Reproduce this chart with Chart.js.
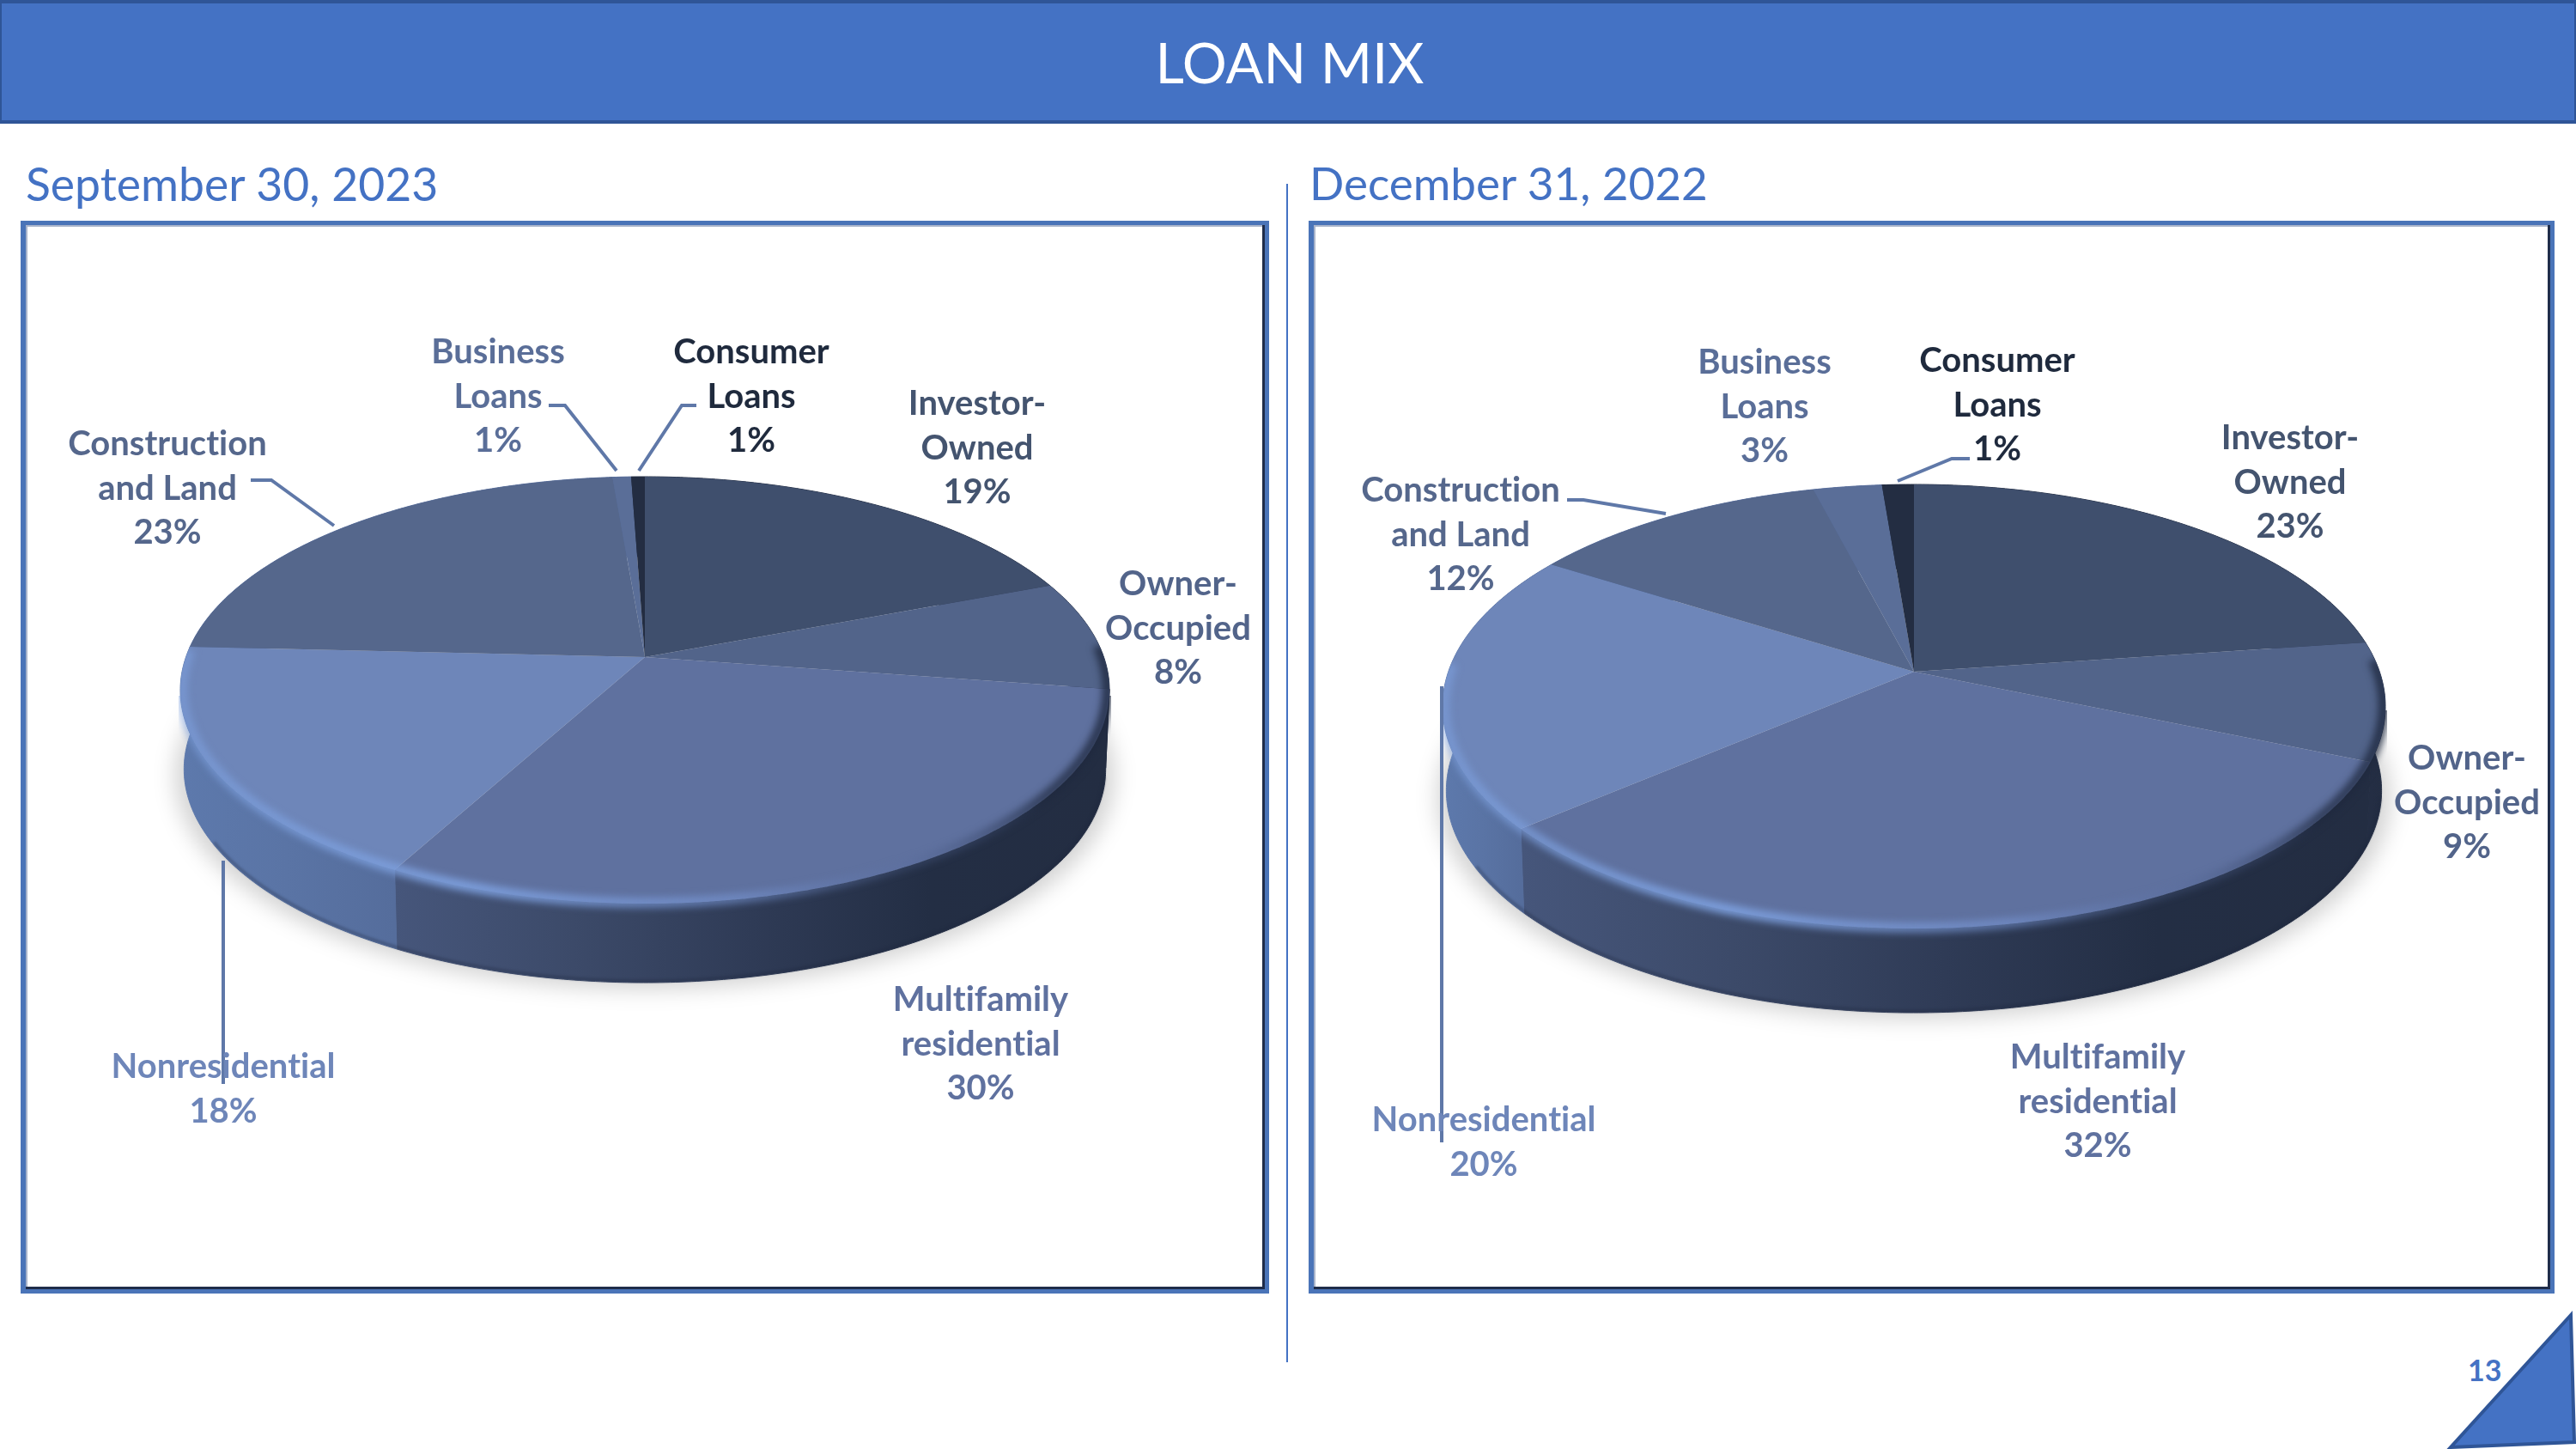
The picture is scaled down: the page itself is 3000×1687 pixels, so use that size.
<!DOCTYPE html>
<html><head><meta charset="utf-8">
<script src="https://cdn.jsdelivr.net/npm/chart.js@4"></script>
<style>
html,body{margin:0;padding:0;background:#fff;width:3000px;height:1687px;overflow:hidden;font-family:Lato,sans-serif;font-variant-ligatures:none}
#header{position:absolute;left:0;top:0;width:3000px;height:144px;box-sizing:border-box;background:#4472c4;border:solid #2f5597;border-width:4px 2px;color:#fff;font-size:65px;line-height:136px;text-align:center;padding-left:4px}
.sub{position:absolute;top:180px;font-size:53.5px;line-height:66px;color:#4472c4;white-space:nowrap}
.box{position:absolute;top:257px;height:1249px;box-sizing:border-box;border:solid #4a74b8;border-width:5px 5px 5px 6px;box-shadow:inset -3px -3px 0 #1f2d4a,inset 2px 2px 0 #a9b4cb}
canvas{position:absolute}
#divider{position:absolute;left:1498px;top:214px;width:2px;height:1372px;background:#4472c4}
#pageno{position:absolute;left:2874px;top:1572px;font-size:34px;font-weight:700;color:#4472c4;line-height:46px}
#tri{position:absolute;left:0;top:0}
</style></head><body>
<div id="header">LOAN MIX</div>
<div class="sub" style="left:30px">September 30, 2023</div>
<div class="sub" style="left:1525px;font-size:53px">December 31, 2022</div>
<div class="box" style="left:24px;width:1454px"></div>
<div class="box" style="left:1524px;width:1451px"></div>
<div id="divider"></div>
<svg id="tri" width="3000" height="1687"><polygon points="2994,1531 2854,1685 2998,1679" fill="#4472c4" stroke="#2f5597" stroke-width="4"/></svg>
<div id="pageno">13</div>
<canvas id="c1" width="1454" height="1249" style="left:24px;top:257px"></canvas>
<canvas id="c2" width="1451" height="1249" style="left:1524px;top:257px"></canvas>
<script>
const categories=['Investor-Owned','Owner-Occupied','Multifamily residential','Nonresidential','Construction and Land','Business Loans','Consumer Loans'];
const labelLines=[['Investor-','Owned'],['Owner-','Occupied'],['Multifamily','residential'],['Nonresidential'],['Construction','and Land'],['Business','Loans'],['Consumer','Loans']];
// Slice sizes; the printed labels are these rounded to whole percent
const sep2023=[19.1,8.3,30.4,18.0,22.9,0.75,0.55];
const dec2022=[22.8,8.6,32.3,20.3,12.0,2.73,1.27];
const faceColors=['#3f4f6d','#52648a','#5f719f','#6e86b9','#55678c','#5a6e98','#232d42'];
const labelColors=['#44546f','#52648a','#5f719f','#6e86b9','#55678c','#5a6e98','#1f2a3d'];
const leaderColor='#5f78a8';
const wallStops=[
 ['#2c3850','#232d42'],['#242e44','#232d42'],
 ['#46567b','#3c4a69','#2f3b56','#232e44','#232d42'],
 ['#5d79ac','#5a74a5','#556d9c'],['#556c9c','#556c9c'],['#556c9c','#556c9c'],['#232d42','#232d42']];
// Panel geometry: page coordinates of the projected disc, labels and leader lines
const layouts=[
 {ox:24,oy:257,cx:751,ay:765,ry0:210,ry1:287,rx:541,h:92,
  labels:[[1138,470],[1372,680],[1142,1164],[260,1242],[195,517],[580,410],[875,410]],
  leaders:[[[260,1002],[260,1262]],[[292,559],[316,559],[389,612]],[[639,472],[658,472],[718,548]],[[811,472],[794,472],[744,548]]]},
 {ox:1524,oy:257,cx:2229,ay:782,ry0:218,ry1:299,rx:549,h:98,
  labels:[[2667,510],[2873,883],[2443,1231],[1728,1304],[1701,571],[2055,422],[2326,420]],
  leaders:[[[1679,799],[1679,1330]],[[1825,582],[1844,582],[1940,598]],[[2294,534],[2273,534],[2210,560]]]}
];
function makePlugin(L){
 const c=(L.ry0-L.ry1)/(L.ry0+L.ry1), A=L.ry1*(1+c), R=L.rx*Math.sqrt(1-c*c);
 const P=(a,dy=0,k=1)=>{const u=Math.cos(a),v=Math.sin(a),w=1+c*v;return [L.cx+k*R*u/w,L.ay+A*v/w+dy];};
 const trace=(ctx,a0,a1,dy,k,first)=>{const n=Math.max(2,Math.ceil(Math.abs(a1-a0)/0.01));
  for(let i=0;i<=n;i++){const p=P(a0+(a1-a0)*i/n,dy,k);(i==0&&first)?ctx.moveTo(p[0],p[1]):ctx.lineTo(p[0],p[1]);}};
 return {id:'pie3d',beforeDatasetsDraw(chart){
  const ctx=chart.ctx, meta=chart.getDatasetMeta(0), vals=chart.data.datasets[0].data;
  ctx.save();ctx.translate(-L.ox,-L.oy);
  // soft ground shadow
  ctx.save();ctx.filter='blur(12px)';ctx.fillStyle='rgba(0,0,0,0.17)';ctx.beginPath();
  trace(ctx,0,Math.PI*2,L.h+8,1.012,true);ctx.closePath();ctx.fill();ctx.restore();
  // side walls
  meta.data.forEach((arc,i)=>{
   let xs=[];const n=40;for(let j=0;j<=n;j++){const a=arc.startAngle+(arc.endAngle-arc.startAngle)*j/n;if(Math.sin(a)>-0.1)xs.push(P(a)[0]);}
   const x0=xs.length?Math.min(...xs):0,x1=xs.length?Math.max(...xs):1;
   const g=ctx.createLinearGradient(x0,0,Math.max(x1,x0+1),0),st=wallStops[i];
   st.forEach((col,k)=>g.addColorStop(k/(st.length-1),col));
   ctx.fillStyle=g;ctx.strokeStyle=g;ctx.lineWidth=1;ctx.beginPath();
   trace(ctx,arc.startAngle,arc.endAngle,0,1,true);
   trace(ctx,arc.endAngle,arc.startAngle,L.h,0.992,false);ctx.closePath();ctx.fill();ctx.stroke();
  });
  // dark foot of the wall
  ctx.save();ctx.strokeStyle='rgba(28,38,60,0.35)';ctx.lineWidth=3;ctx.filter='blur(1.5px)';ctx.beginPath();
  trace(ctx,0.2,Math.PI-0.5,L.h-2,0.99,true);ctx.stroke();ctx.restore();
  // top face
  meta.data.forEach((arc,i)=>{
   ctx.fillStyle=arc.options.backgroundColor;ctx.beginPath();
   ctx.moveTo(L.cx,L.ay);trace(ctx,arc.startAngle,arc.endAngle,0,1,false);ctx.closePath();ctx.fill();
  });
  // bevel, kept inside the solid: bright on the lit front-left, dark on the right
  const rim=ctx.createLinearGradient(L.cx-L.rx,0,L.cx+L.rx,0);
  rim.addColorStop(0,'rgba(125,160,222,0.6)');rim.addColorStop(0.3,'rgba(125,160,222,0.95)');
  rim.addColorStop(0.6,'rgba(120,150,212,0.6)');rim.addColorStop(0.78,'rgba(90,110,160,0.25)');rim.addColorStop(0.93,'rgba(30,40,62,0.7)');rim.addColorStop(1,'rgba(30,40,62,0.85)');
  ctx.save();ctx.beginPath();
  trace(ctx,-Math.PI/2,Math.PI*1.5,0,1,true);ctx.closePath();
  ctx.rect(L.cx-L.rx-2,L.ay+45,L.rx*2+4,400);
  ctx.clip();
  ctx.filter='blur(4px)';ctx.strokeStyle=rim;ctx.lineWidth=12;ctx.lineCap='butt';ctx.beginPath();
  trace(ctx,-0.05,Math.PI+0.03,-1,0.996,true);ctx.stroke();ctx.restore();
  // leader lines and labels
  ctx.strokeStyle=leaderColor;ctx.lineWidth=4;
  L.leaders.forEach(l=>{ctx.beginPath();l.forEach((p,k)=>k?ctx.lineTo(p[0],p[1]):ctx.moveTo(p[0],p[1]));ctx.stroke();});
  ctx.font='700 40px Lato, sans-serif';ctx.textAlign='center';ctx.textBaseline='middle';
  if('letterSpacing' in ctx)ctx.letterSpacing='0.01px';
  labelLines.forEach((lines,i)=>{ctx.fillStyle=labelColors[i];const p=L.labels[i];
   [...lines,Math.round(vals[i])+'%'].forEach((t,k)=>ctx.fillText(t,p[0],p[1]+k*51.6));});
  ctx.restore();
  return false;
 }};
}
[['c1',sep2023],['c2',dec2022]].forEach(([id,vals],i)=>{
 new Chart(document.getElementById(id),{type:'pie',
  data:{labels:categories,datasets:[{data:vals,backgroundColor:faceColors,borderWidth:0}]},
  options:{responsive:false,animation:false,plugins:{legend:{display:false},tooltip:{enabled:false}}},
  plugins:[makePlugin(layouts[i])]});
});
</script>
</body></html>
